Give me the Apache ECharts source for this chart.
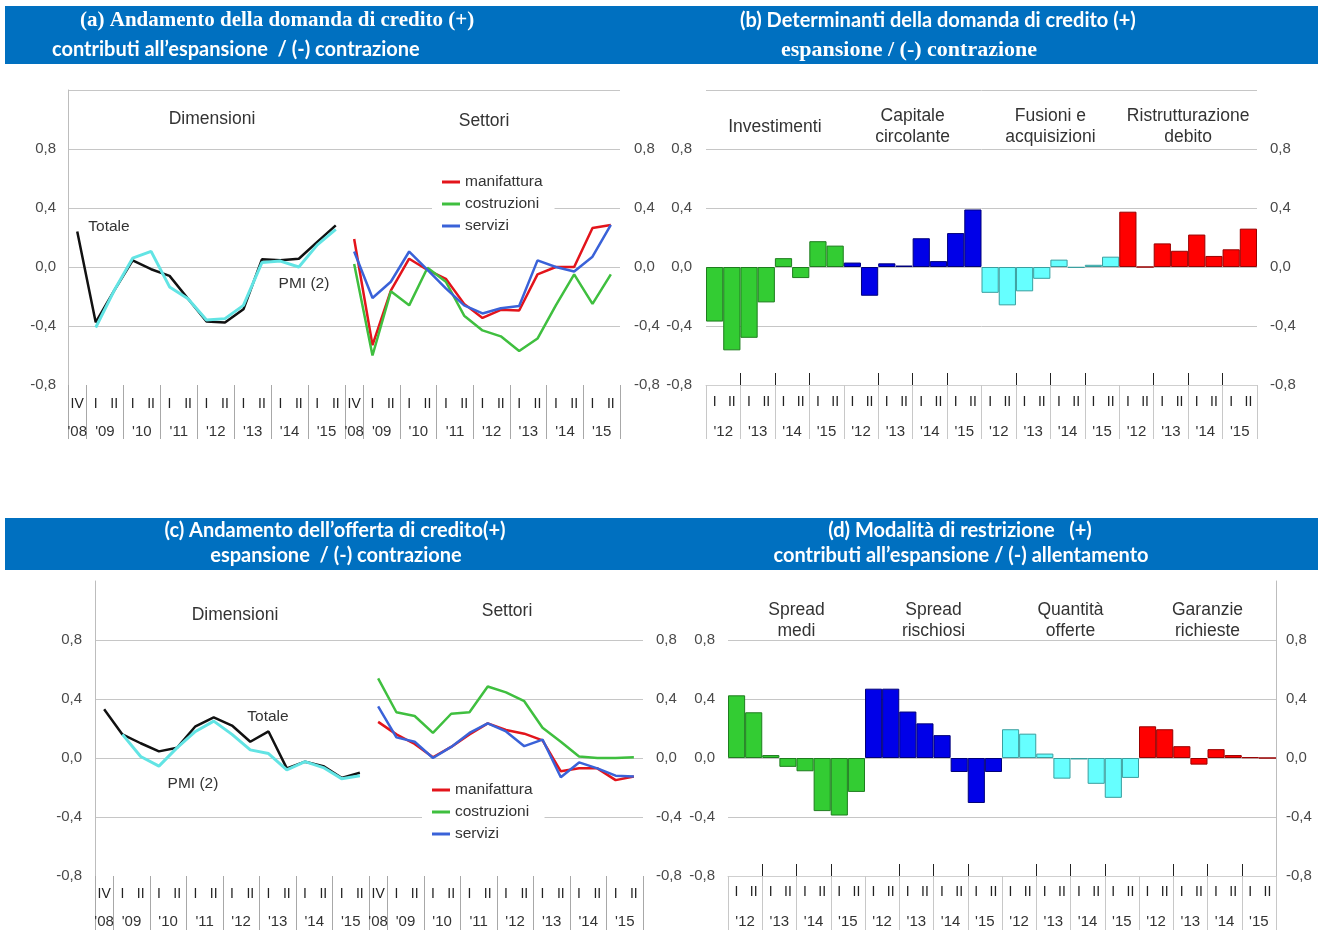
<!DOCTYPE html>
<html>
<head>
<meta charset="utf-8">
<script src="https://cdn.jsdelivr.net/npm/echarts@6/dist/echarts.min.js"></script>
<style>
  html, body { margin: 0; padding: 0; background: #fff; }
  #chart { width: 1324px; height: 934px; }
</style>
</head>
<body>
<div id="chart"></div>
<script>
// ---- tick labels ----
const halfLine = ['IV', 'I', 'II', 'I', 'II', 'I', 'II', 'I', 'II', 'I', 'II', 'I', 'II', 'I', 'II'];
const yearsLine = ["'08", "'09", "'10", "'11", "'12", "'13", "'14", "'15"];
const halfYear = ['I', 'II'];
const yearsBar = ["'12", "'13", "'14", "'15"];
const sectorNames = ['manifattura', 'costruzioni', 'servizi'];

// ---- (a) domanda di credito ----
const aTotale = [0.24, -0.375, -0.16, 0.045, -0.015, -0.06, -0.215, -0.37, -0.377, -0.287, 0.052, 0.045, 0.056, 0.17, 0.282];
const aPmi = ['-', -0.41, -0.16, 0.06, 0.106, -0.135, -0.215, -0.36, -0.35, -0.26, 0.03, 0.04, 0.0, 0.15, 0.255];
const aManifattura = [0.19, -0.53, -0.16, 0.056, -0.02, -0.08, -0.25, -0.345, -0.29, -0.295, -0.05, 0.0, 0.0, 0.265, 0.285];
const aCostruzioni = [0.02, -0.6, -0.165, -0.26, -0.005, -0.1, -0.33, -0.43, -0.47, -0.57, -0.485, -0.26, -0.05, -0.25, -0.05];
const aServizi = [0.105, -0.21, -0.1, 0.105, -0.02, -0.145, -0.26, -0.315, -0.28, -0.265, 0.045, 0.0, -0.03, 0.07, 0.285];

// ---- (b) determinanti della domanda ----
const bGroups = ['Investimenti', 'Capitale\ncircolante', 'Fusioni e\nacquisizioni', 'Ristrutturazione\ndebito'];
const bInvestimenti = [-0.37, -0.565, -0.48, -0.24, 0.06, -0.075, 0.175, 0.145];
const bCapitale = [0.03, -0.195, 0.025, 0.01, 0.195, 0.04, 0.23, 0.39];
const bFusioni = [-0.175, -0.26, -0.165, -0.08, 0.05, -0.005, 0.015, 0.07];
const bRistrutturazione = [0.375, 0.0, 0.16, 0.11, 0.22, 0.075, 0.12, 0.26];

// ---- (c) offerta di credito ----
const cTotale = [0.33, 0.16, 0.10, 0.045, 0.07, 0.215, 0.275, 0.22, 0.11, 0.18, -0.07, -0.025, -0.055, -0.135, -0.10];
const cPmi = ['-', 0.16, 0.01, -0.055, 0.07, 0.18, 0.25, 0.16, 0.055, 0.03, -0.08, -0.025, -0.065, -0.14, -0.12];
const cManifattura = [0.245, 0.16, 0.095, 0.005, 0.075, 0.16, 0.235, 0.19, 0.165, 0.12, -0.09, -0.07, -0.07, -0.15, -0.125];
const cCostruzioni = [0.54, 0.31, 0.285, 0.17, 0.3, 0.31, 0.485, 0.445, 0.385, 0.205, 0.11, 0.01, 0.0, 0.0, 0.005];
const cServizi = [0.35, 0.14, 0.11, 0.0, 0.075, 0.17, 0.235, 0.18, 0.08, 0.125, -0.13, -0.03, -0.07, -0.12, -0.125];

// ---- (d) modalita di restrizione ----
const dGroups = ['Spread\nmedi', 'Spread\nrischiosi', 'Quantità\nofferte', 'Garanzie\nrichieste'];
const dSpreadMedi = [0.425, 0.31, 0.02, -0.06, -0.09, -0.36, -0.39, -0.23];
const dSpreadRischiosi = [0.47, 0.47, 0.315, 0.235, 0.155, -0.095, -0.305, -0.095];
const dQuantita = [0.195, 0.165, 0.03, -0.14, -0.01, -0.175, -0.27, -0.135];
const dGaranzie = [0.215, 0.195, 0.08, -0.045, 0.06, 0.02, 0.005, 0.0];

// ---- styling ----
const SANS = '"Liberation Sans", Arial, sans-serif';
const SERIF = '"Liberation Serif", "DejaVu Serif", serif';
const CALI = 'Lato, "Open Sans", sans-serif';
const BANNER = '#0070C0';
const GRID_LINE = '#c6c6c6';
const LABEL = '#333';

const col = {
  totale: '#111111', pmi: '#62e4e4',
  manifattura: '#e3141b', costruzioni: '#3fbf3f', servizi: '#3a62d8'
};
const barCol = [
  ['#33cc33', '#1e7d1e'],
  ['#0000e8', '#00007a'],
  ['#66ffff', '#3a9f9f'],
  ['#ff0000', '#990000']
];

const fmt = v => (Math.abs(v) < 1e-9 ? '0,0' : v.toFixed(1).replace('.', ','));
const idx = n => Array.from({ length: n }, (_, i) => String(i));

// half-year labels for the bar panels: I, II for each of 16 years
const halfBar = [];
for (let g = 0; g < 4; g++) yearsBar.forEach(() => halfBar.push(...halfYear));
const yearBarLabels = [];
for (let g = 0; g < 4; g++) yearBarLabels.push(...yearsBar);

// year labels on a half-cell scale (31 slots) for the line panels
const yearSlots = Array.from({ length: 31 }, () => '');
yearsLine.forEach((y, j) => { yearSlots[j === 0 ? 1 : 4 * j] = y; });

const grid = [
  { left: 68, top: 90, width: 277, height: 295 },   // a - Dimensioni
  { left: 345, top: 90, width: 275, height: 295 },  // a - Settori
  { left: 706, top: 90, width: 551, height: 295 },  // b
  { left: 95, top: 581, width: 274, height: 295 },  // c - Dimensioni
  { left: 369, top: 581, width: 274, height: 295 }, // c - Settori
  { left: 728, top: 581, width: 548, height: 295 }  // d
].map(g => Object.assign({ outerBoundsMode: 'none' }, g));

const xAxis = [];
const yAxis = [];

function addX(o) { xAxis.push(o); return xAxis.length - 1; }
function addY(o) { yAxis.push(o); return yAxis.length - 1; }

function valueAxis(gridIndex, position, margin, split, showLine) {
  return {
    type: 'value', gridIndex, position, min: -0.8, max: 1.2, interval: 0.4,
    axisLine: { show: !!showLine, onZero: false, lineStyle: { color: '#bdbdbd', width: 1 } },
    axisTick: { show: false },
    axisLabel: { formatter: fmt, showMaxLabel: false, margin, color: '#4a4a4a', fontFamily: SANS, fontSize: 15 },
    splitLine: split
      ? { show: true, showMinLine: split.min, showMaxLine: split.max, lineStyle: { color: GRID_LINE, width: 1 } }
      : { show: false }
  };
}

// category axis carrying the data, half-year labels and downward separators
function halfAxis(gridIndex, labels, tickFn, margin, tickColor, lineColor) {
  return {
    type: 'category', gridIndex, position: 'bottom', data: idx(labels.length), boundaryGap: true,
    axisLine: { show: !!lineColor, onZero: false, lineStyle: { color: lineColor || '#ccc' } },
    axisTick: { show: true, length: 54, interval: tickFn, lineStyle: { color: tickColor } },
    axisLabel: { interval: 0, margin, color: '#222', fontFamily: SANS, fontSize: 14, formatter: (v, i) => labels[i] },
    splitLine: { show: false }
  };
}

function labelAxis(gridIndex, labels, gap, margin) {
  return {
    type: 'category', gridIndex, position: 'bottom', data: idx(labels.length), boundaryGap: gap,
    axisLine: { show: false, onZero: false }, axisTick: { show: false },
    axisLabel: { interval: 0, margin, color: LABEL, fontFamily: SANS, fontSize: 15, formatter: (v, i) => labels[i] },
    splitLine: { show: false }
  };
}

// short upward ticks at year boundaries inside each group of a bar panel
function upTickAxis(gridIndex) {
  return {
    type: 'category', gridIndex, position: 'bottom', data: idx(33), boundaryGap: false,
    axisLine: { show: false, onZero: false }, axisLabel: { show: false },
    axisTick: { show: true, inside: true, length: 12, interval: i => i % 2 === 0 && i % 8 !== 0, lineStyle: { color: '#222' } },
    splitLine: { show: false }
  };
}

const yearTicks = i => i === 0 || i % 2 === 1;
const barYearTicks = i => i % 2 === 0;

// panel a axes
const xa1 = addX(halfAxis(0, halfLine, yearTicks, 12, '#a8a8a8'));
addX(labelAxis(0, yearSlots, false, 39));
const xa2 = addX(halfAxis(1, halfLine, yearTicks, 12, '#a8a8a8'));
addX(labelAxis(1, yearSlots, false, 39));
const ya1 = addY(valueAxis(0, 'left', 12, { min: false, max: true }, true));
const ya2 = addY(valueAxis(1, 'right', 14, { min: false, max: true }, false));

// panel b axes
const xb = addX(halfAxis(2, halfBar, barYearTicks, 10, '#c8c8c8', '#cfcfcf'));
addX(upTickAxis(2));
addX(labelAxis(2, yearBarLabels, true, 39));
const yb = addY(valueAxis(2, 'left', 14, { min: false, max: true }, false));
addY(valueAxis(2, 'right', 13, null, false));

// panel c axes
const xc1 = addX(halfAxis(3, halfLine, yearTicks, 11, '#a8a8a8'));
addX(labelAxis(3, yearSlots, false, 38));
const xc2 = addX(halfAxis(4, halfLine, yearTicks, 11, '#a8a8a8'));
addX(labelAxis(4, yearSlots, false, 38));
const yc1 = addY(valueAxis(3, 'left', 13, { min: false, max: false }, true));
const yc2 = addY(valueAxis(4, 'right', 13, { min: false, max: false }, false));

// panel d axes
const xd = addX(halfAxis(5, halfBar, barYearTicks, 9, '#c8c8c8', '#cfcfcf'));
addX(upTickAxis(5));
addX(labelAxis(5, yearBarLabels, true, 38));
const yd = addY(valueAxis(5, 'left', 13, { min: false, max: false }, false));
addY(valueAxis(5, 'right', 10, null, true));

function line(name, data, xi, yi, color, width, z) {
  return {
    type: 'line', name, data, xAxisIndex: xi, yAxisIndex: yi, symbol: 'none', silent: true,
    lineStyle: { color, width }, itemStyle: { color }, z: z || 2
  };
}

function bars(name, values, group, xi, yi) {
  const data = Array.from({ length: 32 }, () => '-');
  values.forEach((v, k) => { data[group * 8 + k] = v; });
  return {
    type: 'bar', name, data, xAxisIndex: xi, yAxisIndex: yi, silent: true,
    barGap: '-100%', barCategoryGap: '0%',
    itemStyle: { color: barCol[group][0], borderColor: barCol[group][1], borderWidth: 1 }
  };
}

const series = [
  line('Totale', aTotale, xa1, ya1, col.totale, 2.5, 2),
  line('PMI (2)', aPmi, xa1, ya1, col.pmi, 3, 3),
  line(sectorNames[0], aManifattura, xa2, ya2, col.manifattura, 2.5),
  line(sectorNames[1], aCostruzioni, xa2, ya2, col.costruzioni, 2.5),
  line(sectorNames[2], aServizi, xa2, ya2, col.servizi, 2.5),

  bars('Investimenti', bInvestimenti, 0, xb, yb),
  bars('Capitale circolante', bCapitale, 1, xb, yb),
  bars('Fusioni e acquisizioni', bFusioni, 2, xb, yb),
  bars('Ristrutturazione debito', bRistrutturazione, 3, xb, yb),

  line('Totale', cTotale, xc1, yc1, col.totale, 2.5, 2),
  line('PMI (2)', cPmi, xc1, yc1, col.pmi, 3, 3),
  line(sectorNames[0], cManifattura, xc2, yc2, col.manifattura, 2.5),
  line(sectorNames[1], cCostruzioni, xc2, yc2, col.costruzioni, 2.5),
  line(sectorNames[2], cServizi, xc2, yc2, col.servizi, 2.5),

  bars('Spread medi', dSpreadMedi, 0, xd, yd),
  bars('Spread rischiosi', dSpreadRischiosi, 1, xd, yd),
  bars('Quantità offerte', dQuantita, 2, xd, yd),
  bars('Garanzie richieste', dGaranzie, 3, xd, yd)
];

function legendAt(left, top) {
  return {
    data: sectorNames, orient: 'vertical', left, top, selectedMode: false,
    icon: 'rect', itemWidth: 18, itemHeight: 3, itemGap: 6,
    backgroundColor: '#fff', padding: [4, 12, 4, 10],
    textStyle: { fontSize: 15.5, color: LABEL, fontFamily: SANS }
  };
}

function text(x, y, str, size, family, weight, fill, align) {
  return {
    type: 'text', x, y, silent: true, z: 10,
    style: {
      text: str, fontSize: size, fontFamily: family, fontWeight: weight || 'normal',
      fill: fill || LABEL, align: align || 'center', verticalAlign: 'middle', lineHeight: 21
    }
  };
}

const groupCenters = (g, n) => Array.from({ length: n }, (_, i) => g.left + g.width * (i + 0.5) / n);
const bCenters = groupCenters(grid[2], 4);
const dCenters = groupCenters(grid[5], 4);

const graphic = [
  { type: 'rect', silent: true, shape: { x: 5, y: 6, width: 1313, height: 58 }, style: { fill: BANNER } },
  { type: 'rect', silent: true, shape: { x: 5, y: 518, width: 1313, height: 52 }, style: { fill: BANNER } },

  text(80, 21, '(a) Andamento della domanda di credito (+)', 21, SERIF, 'bold', '#fff', 'left'),
  text(52, 50, 'contributi all’espansione  / (-) contrazione', 20, CALI, 'bold', '#fff', 'left'),
  text(740, 21, '(b) Determinanti della domanda di credito (+)', 20, CALI, 'bold', '#fff', 'left'),
  text(781, 50, 'espansione / (-) contrazione', 22, SERIF, 'bold', '#fff', 'left'),
  text(335, 531, '(c) Andamento dell’offerta di credito(+)', 20, CALI, 'bold', '#fff'),
  text(336, 556, 'espansione  / (-) contrazione', 20, CALI, 'bold', '#fff'),
  text(960, 531, '(d) Modalità di restrizione   (+)', 20, CALI, 'bold', '#fff'),
  text(961, 556, 'contributi all’espansione / (-) allentamento', 20, CALI, 'bold', '#fff'),

  text(212, 119, 'Dimensioni', 17.5, SANS),
  text(484, 121, 'Settori', 17.5, SANS),
  text(235, 615, 'Dimensioni', 17.5, SANS),
  text(507, 611, 'Settori', 17.5, SANS),

  text(109, 227, 'Totale', 15.5, SANS),
  text(304, 284, 'PMI (2)', 15.5, SANS),
  text(268, 717, 'Totale', 15.5, SANS),
  text(193, 784, 'PMI (2)', 15.5, SANS)
];
bGroups.forEach((t, i) => graphic.push(text(bCenters[i], 127, t, 17.5, SANS)));
dGroups.forEach((t, i) => graphic.push(text(dCenters[i], 621, t, 17.5, SANS)));

const chart = echarts.init(document.getElementById('chart'), null, { renderer: 'canvas', width: 1324, height: 934 });
chart.setOption({
  backgroundColor: '#ffffff',
  animation: false,
  textStyle: { fontFamily: SANS },
  grid, xAxis, yAxis, series,
  legend: [legendAt(432, 170), legendAt(422, 778)],
  graphic
});
</script>
</body>
</html>
